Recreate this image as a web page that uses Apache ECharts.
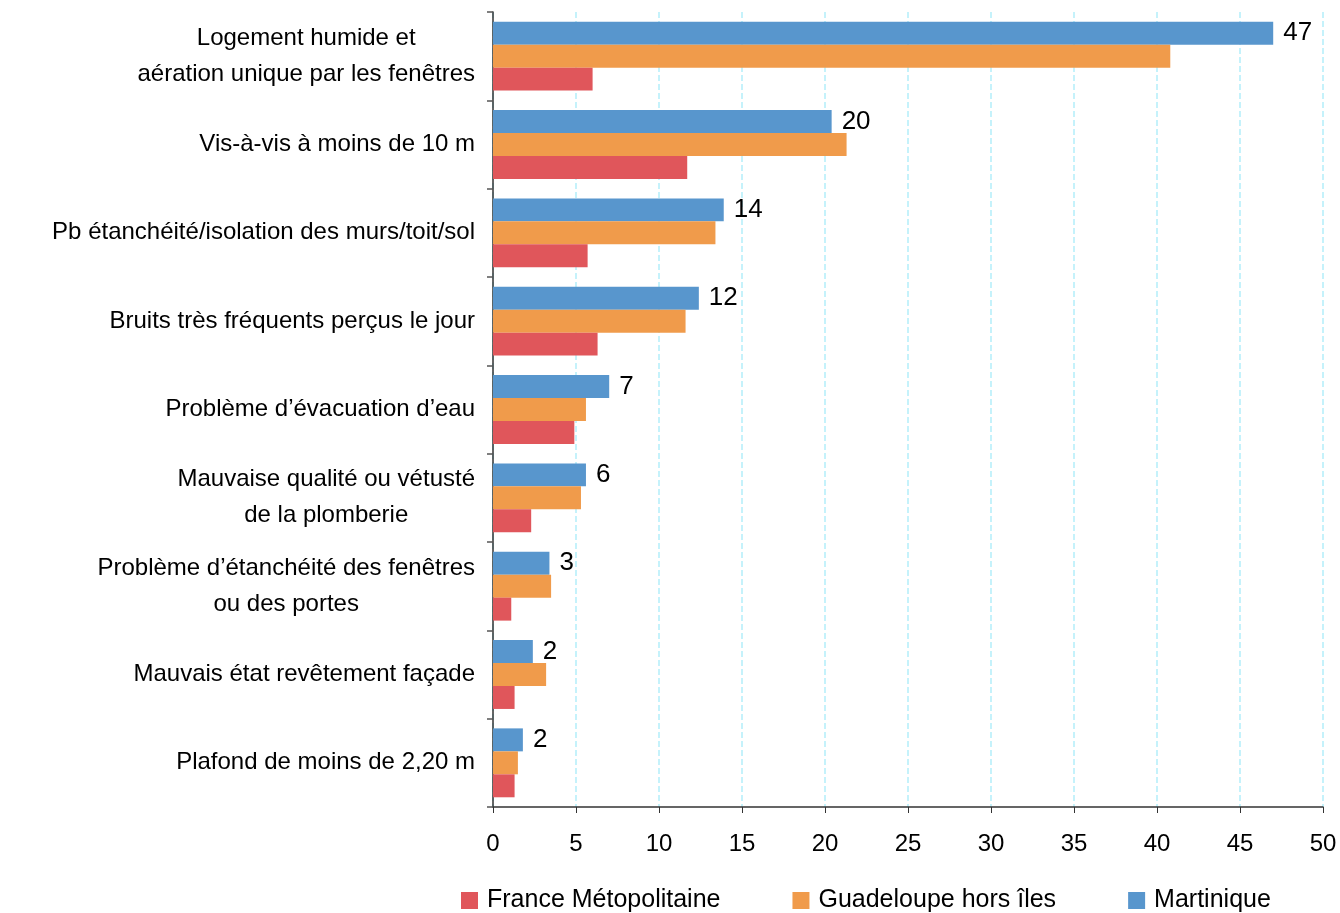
<!DOCTYPE html>
<html>
<head>
<meta charset="utf-8">
<script src="https://cdn.jsdelivr.net/npm/echarts@6/dist/echarts.min.js"></script>
<style>
  html, body { margin: 0; padding: 0; background: #fff; }
  #chart { width: 1340px; height: 913px; }
</style>
</head>
<body>
<div id="chart"></div>
<script>
// problem categories, top to bottom
var categories = [
  'Logement humide et\naération unique par les fenêtres',
  'Vis-à-vis à moins de 10 m',
  'Pb étanchéité/isolation des murs/toit/sol',
  'Bruits très fréquents perçus le jour',
  'Problème d\u2019évacuation d\u2019eau',
  'Mauvaise qualité ou vétusté\nde la plomberie',
  'Problème d\u2019étanchéité des fenêtres\nou des portes',
  'Mauvais état revêtement façade',
  'Plafond de moins de 2,20 m'
];

var martinique = [47.0, 20.4, 13.9, 12.4, 7.0, 5.6, 3.4, 2.4, 1.8];
var guadeloupe = [40.8, 21.3, 13.4, 11.6, 5.6, 5.3, 3.5, 3.2, 1.5];
var france = [6.0, 11.7, 5.7, 6.3, 4.9, 2.3, 1.1, 1.3, 1.3];

var xTicks = [0, 5, 10, 15, 20, 25, 30, 35, 40, 45, 50];

var colors = { france: '#e0565b', guadeloupe: '#f09b4b', martinique: '#5896cd' };
var font = '"Liberation Sans", Arial, sans-serif';

var chart = echarts.init(document.getElementById('chart'));

function barSeries(name, data, color, withLabel) {
  return {
    name: name,
    type: 'bar',
    data: data,
    barGap: '0%',
    barCategoryGap: '22%',
    itemStyle: { color: color },
    label: {
      show: withLabel,
      position: 'right',
      distance: 10,
      color: '#000',
      fontFamily: font,
      fontSize: 26,
      formatter: function (p) { return Math.round(p.value); }
    }
  };
}

chart.setOption({
  animation: false,
  textStyle: { fontFamily: font },
  grid: { left: 493, right: 17, top: 12, bottom: 106, containLabel: false },
  legend: {
    data: ['France Métopolitaine', 'Guadeloupe hors îles', 'Martinique'],
    left: 461,
    top: 888,
    padding: 0,
    itemWidth: 17,
    itemHeight: 17,
    itemGap: 72,
    icon: 'rect',
    textStyle: { fontSize: 25, color: '#000', fontFamily: font, padding: [0, 0, 0, 4] }
  },
  xAxis: {
    type: 'value',
    min: xTicks[0],
    max: xTicks[xTicks.length - 1],
    interval: 5,
    axisLine: { show: true, lineStyle: { color: '#333', width: 1.5 } },
    axisTick: { show: true, length: 6, lineStyle: { color: '#333' } },
    axisLabel: { fontSize: 24, color: '#000', margin: 25, fontFamily: font },
    splitLine: { show: true, lineStyle: { color: '#b3eefa', type: 'dashed', width: 1.5 } }
  },
  yAxis: {
    type: 'category',
    data: categories,
    inverse: true,
    axisLine: { show: true, lineStyle: { color: '#333', width: 1.5 } },
    axisTick: { show: true, length: 6, lineStyle: { color: '#555', width: 1.5 } },
    axisLabel: {
      fontSize: 24,
      color: '#000',
      margin: 18,
      fontFamily: font,
      formatter: function (v) {
        return v.split('\n').map(function (s) { return '{c|' + s + '}'; }).join('\n');
      },
      rich: { c: { align: 'center', fontSize: 24, lineHeight: 36, fontFamily: font, color: '#000' } }
    }
  },
  series: [
    barSeries('Martinique', martinique, colors.martinique, true),
    barSeries('Guadeloupe hors îles', guadeloupe, colors.guadeloupe, false),
    barSeries('France Métopolitaine', france, colors.france, false)
  ]
});
</script>
</body>
</html>
